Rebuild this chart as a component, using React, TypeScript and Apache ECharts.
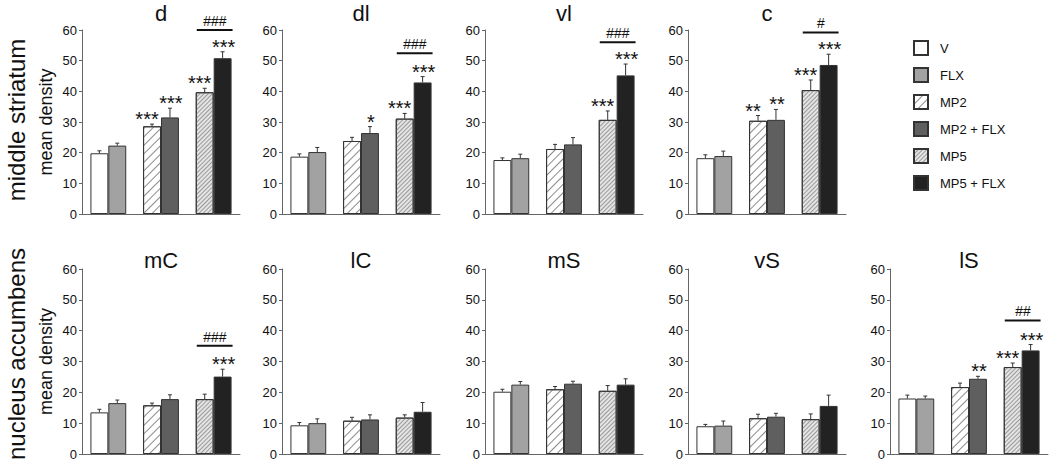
import React, { useEffect, useRef } from "react";
import * as echarts from "echarts";

const FONT = "'Liberation Sans', Arial, Helvetica, sans-serif";

const groups = ["V", "FLX", "MP2", "MP2 + FLX", "MP5", "MP5 + FLX"];
const panelNames = ["d", "dl", "vl", "c", "mC", "lC", "mS", "vS", "lS"];
const yTicks = [0, 10, 20, 30, 40, 50, 60];

const meanD = [19.8, 22.3, 28.6, 31.5, 39.7, 50.8];
const semD = [0.8, 0.8, 0.7, 3.0, 1.3, 2.1];
const meanDL = [18.7, 20.2, 23.8, 26.4, 31.1, 42.9];
const semDL = [0.9, 1.5, 1.2, 2.1, 1.7, 1.9];
const meanVL = [17.6, 18.2, 21.2, 22.7, 30.7, 45.2];
const semVL = [0.7, 1.3, 1.5, 2.2, 2.9, 3.7];
const meanC = [18.2, 18.9, 30.4, 30.7, 40.4, 48.6];
const semC = [1.1, 1.6, 1.7, 3.4, 3.3, 3.5];
const meanMC = [13.5, 16.5, 15.8, 17.8, 17.8, 25.1];
const semMC = [1.0, 1.0, 0.7, 1.4, 1.6, 2.4];
const meanLC = [9.3, 10.0, 10.8, 11.2, 11.8, 13.7];
const semLC = [0.9, 1.4, 1.1, 1.5, 0.9, 3.0];
const meanMS = [20.2, 22.5, 21.0, 22.8, 20.5, 22.5];
const semMS = [0.8, 1.0, 0.9, 0.8, 1.7, 1.9];
const meanVS = [9.0, 9.2, 11.6, 12.1, 11.3, 15.6];
const semVS = [0.6, 1.5, 1.3, 1.1, 1.7, 3.5];
const meanLS = [18.0, 18.0, 21.7, 24.4, 28.2, 33.6];
const semLS = [1.1, 0.8, 1.3, 0.8, 1.3, 1.9];

const starsD = ["", "", "***", "***", "***", "***"];
const starsDL = ["", "", "", "*", "***", "***"];
const starsVL = ["", "", "", "", "***", "***"];
const starsC = ["", "", "**", "**", "***", "***"];
const starsMC = ["", "", "", "", "", "***"];
const starsNone = ["", "", "", "", "", ""];
const starsLS = ["", "", "", "**", "***", "***"];

// bracket over MP5 vs MP5 + FLX: [label, level in data units]
const hashD = ["###", 60];
const hashDL = ["###", 52.4];
const hashVL = ["###", 56];
const hashC = ["#", 59.2];
const hashMC = ["###", 35.1];
const hashLS = ["##", 43.3];

const means = [meanD, meanDL, meanVL, meanC, meanMC, meanLC, meanMS, meanVS, meanLS];
const sems = [semD, semDL, semVL, semC, semMC, semLC, semMS, semVS, semLS];
const stars = [starsD, starsDL, starsVL, starsC, starsMC, starsNone, starsNone, starsNone, starsLS];
const hashes: any[] = [hashD, hashDL, hashVL, hashC, hashMC, null, null, null, hashLS];

// layout
const gridLefts = [82, 282, 485, 688, 82, 282, 485, 688, 890];
const gridTops = [30, 30, 30, 30, 269, 269, 269, 269, 269];
const gridW = 158;
const gridH = [184, 184, 184, 184, 185, 185, 185, 185, 185];
const BAR_FRAC = 0.34;

const BORDER = "#333";
const styles: any[] = [
  { color: "#ffffff", borderColor: BORDER, borderWidth: 1 },
  { color: "#a2a2a2", borderColor: BORDER, borderWidth: 1 },
  {
    color: "#ffffff",
    borderColor: BORDER,
    borderWidth: 1,
    decal: {
      symbol: "rect",
      symbolSize: 1,
      color: "#8a8a8a",
      backgroundColor: "#ffffff",
      dashArrayX: [1, 0],
      dashArrayY: [1, 5],
      rotation: -Math.PI / 4,
    },
  },
  { color: "#5f5f5f", borderColor: BORDER, borderWidth: 1 },
  {
    color: "#e4e4e4",
    borderColor: BORDER,
    borderWidth: 1,
    decal: {
      symbol: "rect",
      symbolSize: 1,
      color: "#9a9a9a",
      backgroundColor: "#e4e4e4",
      dashArrayX: [1, 0],
      dashArrayY: [1, 2],
      rotation: -Math.PI / 4,
    },
  },
  { color: "#222222", borderColor: BORDER, borderWidth: 1 },
];

function buildOption() {
  const grid: any[] = [];
  const xAxis: any[] = [];
  const yAxis: any[] = [];
  const series: any[] = [];
  const graphic: any[] = [];

  panelNames.forEach((name, p) => {
    grid.push({ left: gridLefts[p], top: gridTops[p], width: gridW, height: gridH[p] });
    xAxis.push({
      type: "category",
      gridIndex: p,
      data: ["a", "b", "c"],
      axisLine: { lineStyle: { color: "#666", width: 1 } },
      axisTick: { show: false },
      axisLabel: { show: false },
    });
    yAxis.push({
      type: "value",
      gridIndex: p,
      min: yTicks[0],
      max: yTicks[yTicks.length - 1],
      interval: 10,
      axisLine: { show: true, lineStyle: { color: "#666", width: 1 } },
      axisTick: { show: true, length: 3, lineStyle: { color: "#666" } },
      splitLine: { show: false },
      axisLabel: { fontSize: 13, color: "#111", fontFamily: FONT, margin: 5 },
      name: p === 0 || p === 4 ? "mean density" : "",
      nameLocation: "middle",
      nameGap: 27,
      nameRotate: 90,
      nameTextStyle: { fontSize: 18, color: "#111", fontFamily: FONT },
    });

    const m = means[p];
    const left = [0, 2, 4].map((i) => ({ value: m[i], itemStyle: styles[i] }));
    const right = [1, 3, 5].map((i) => ({ value: m[i], itemStyle: styles[i] }));
    series.push({
      type: "bar",
      name: name + "-a",
      xAxisIndex: p,
      yAxisIndex: p,
      barWidth: BAR_FRAC * 100 + "%",
      barGap: "0%",
      data: left,
      silent: true,
    });
    series.push({
      type: "bar",
      name: name + "-b",
      xAxisIndex: p,
      yAxisIndex: p,
      barWidth: BAR_FRAC * 100 + "%",
      barGap: "0%",
      data: right,
      silent: true,
    });

    const errData = groups.map((g, i) => [
      Math.floor(i / 2),
      i % 2 === 0 ? -1 : 1,
      m[i],
      m[i] + sems[p][i],
      i,
    ]);
    const st = stars[p];
    series.push({
      type: "custom",
      name: name + "-err",
      xAxisIndex: p,
      yAxisIndex: p,
      silent: true,
      z: 5,
      encode: { x: 0, y: 3 },
      data: errData,
      renderItem: (params: any, api: any) => {
        const cat = api.value(0);
        const side = api.value(1);
        const top = api.value(3);
        const idx = api.value(4);
        const bandW = api.size([1, 0])[0];
        const barW = bandW * BAR_FRAC;
        const base = api.coord([cat, api.value(2)]);
        const tp = api.coord([cat, top]);
        const x = base[0] + (side * barW) / 2;
        const children: any[] = [
          {
            type: "line",
            shape: { x1: x, y1: base[1], x2: x, y2: tp[1] },
            style: { stroke: "#333", lineWidth: 1 },
          },
          {
            type: "line",
            shape: { x1: x - 2, y1: tp[1], x2: x + 2, y2: tp[1] },
            style: { stroke: "#333", lineWidth: 1 },
          },
        ];
        const s = st[idx];
        if (s) {
          children.push({
            type: "text",
            x: x + (side < 0 ? -5 : 1),
            y: tp[1] + 5,
            style: {
              text: s,
              fontSize: 20,
              fontFamily: FONT,
              fill: "#111",
              align: "center",
              verticalAlign: "bottom",
            },
          });
        }
        return { type: "group", children };
      },
    });

    const h = hashes[p];
    if (h) {
      series.push({
        type: "custom",
        name: name + "-hash",
        xAxisIndex: p,
        yAxisIndex: p,
        silent: true,
        z: 5,
        encode: { x: 0, y: 1 },
        data: [[2, h[1]]],
        renderItem: (params: any, api: any) => {
          const bandW = api.size([1, 0])[0];
          const barW = bandW * BAR_FRAC;
          const c = api.coord([api.value(0), api.value(1)]);
          return {
            type: "group",
            children: [
              {
                type: "line",
                shape: { x1: c[0] - barW + 1, y1: c[1], x2: c[0] + barW + 1, y2: c[1] },
                style: { stroke: "#111", lineWidth: 2 },
              },
              {
                type: "text",
                x: c[0] + 1,
                y: c[1] - 2,
                style: {
                  text: h[0],
                  fontSize: 14,
                  fontFamily: FONT,
                  fontStyle: "italic",
                  fill: "#111",
                  align: "center",
                  verticalAlign: "bottom",
                },
              },
            ],
          };
        },
      });
    }

    graphic.push({
      type: "text",
      x: gridLefts[p] + gridW / 2,
      y: p < 4 ? 13 : 260,
      style: {
        text: name,
        fontSize: 22,
        fontFamily: FONT,
        fill: "#111",
        align: "center",
        verticalAlign: "middle",
        textAlign: "center",
        textVerticalAlign: "middle",
      },
    });
  });

  // legend-only series on a hidden grid
  grid.push({ left: 0, top: 0, width: 1, height: 1, show: false });
  xAxis.push({ type: "category", gridIndex: 9, show: false, data: ["x"] });
  yAxis.push({ type: "value", gridIndex: 9, show: false });
  groups.forEach((g, i) => {
    series.push({
      type: "bar",
      name: g,
      xAxisIndex: 9,
      yAxisIndex: 9,
      data: [],
      itemStyle: styles[i],
    });
  });

  graphic.push({
    type: "text",
    x: 16,
    y: 120,
    rotation: Math.PI / 2,
    style: {
      text: "middle striatum",
      fontSize: 24,
      fontFamily: FONT,
      fill: "#111",
      align: "center",
      verticalAlign: "middle",
      textAlign: "center",
      textVerticalAlign: "middle",
    },
  });
  graphic.push({
    type: "text",
    x: 16,
    y: 354,
    rotation: Math.PI / 2,
    style: {
      text: "nucleus accumbens",
      fontSize: 24,
      fontFamily: FONT,
      fill: "#111",
      align: "center",
      verticalAlign: "middle",
      textAlign: "center",
      textVerticalAlign: "middle",
    },
  });

  return {
    animation: false,
    backgroundColor: "#ffffff",
    textStyle: { fontFamily: FONT },
    grid,
    xAxis,
    yAxis,
    series,
    graphic,
    legend: {
      data: groups,
      orient: "vertical",
      left: 908,
      top: 35,
      itemWidth: 14,
      itemHeight: 14,
      itemGap: 11,
      selectedMode: false,
      icon: "rect",
      textStyle: { fontSize: 13, color: "#111", fontFamily: FONT, padding: [0, 0, 0, 7] },
    },
  };
}

export default function App() {
  const ref = useRef<HTMLDivElement>(null);
  useEffect(() => {
    if (!ref.current) return;
    const chart = echarts.init(ref.current, undefined, { renderer: "svg" });
    chart.setOption(buildOption() as any);
    return () => chart.dispose();
  }, []);
  return (
    <div
      ref={ref}
      style={{ position: "fixed", left: 0, top: 0, width: 1050, height: 466, background: "#fff" }}
    />
  );
}
